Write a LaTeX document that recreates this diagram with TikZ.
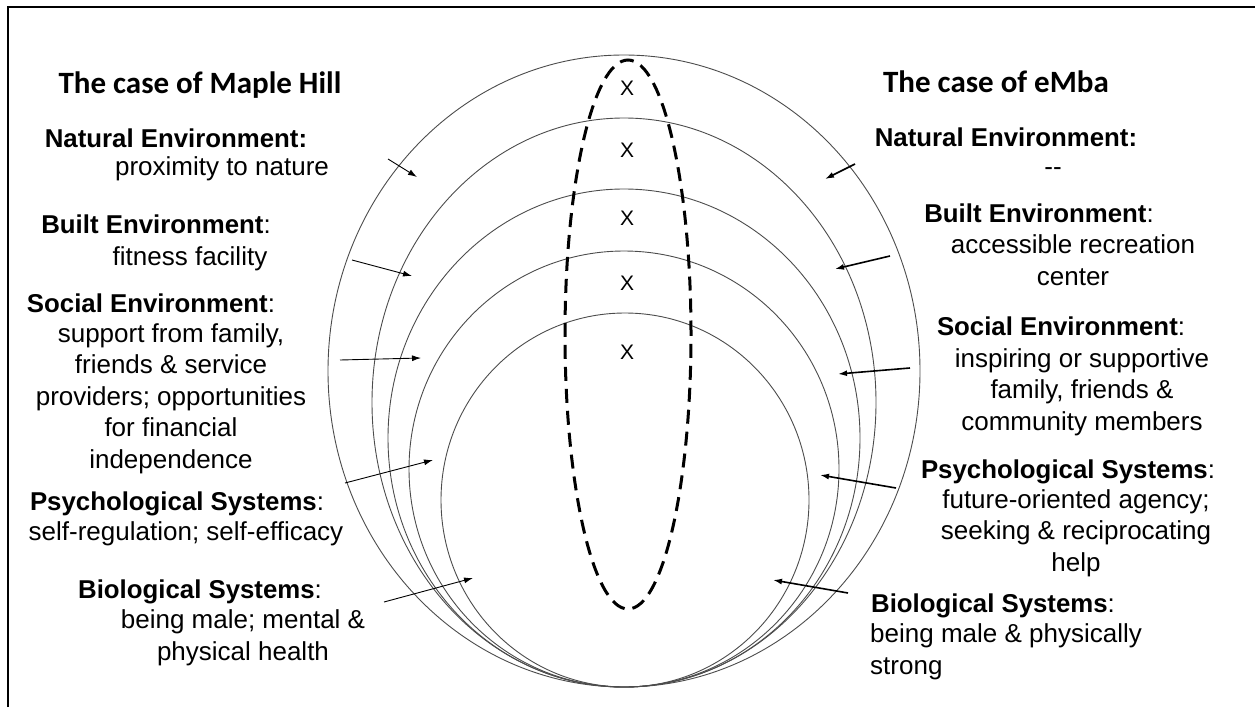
\documentclass[tikz,border=0pt]{standalone}
\usepackage{fontspec}
\setmainfont{Liberation Sans}
\newfontfamily\titlefont{Carlito}
\usetikzlibrary{arrows.meta}

\begin{document}
\begin{tikzpicture}[x=1pt, y=-1pt,
    ring/.style={draw=black!70, line width=0.9pt},
    head/.style={anchor=base, inner sep=0pt, font=\fontsize{25.8}{31}\selectfont},
    body/.style={anchor=base, inner sep=0pt, align=center, font=\fontsize{26}{31.5}\selectfont},
    title/.style={anchor=base, inner sep=0pt, font=\titlefont\fontsize{31}{36}\selectfont\bfseries},
    cross/.style={inner sep=0pt, font=\fontsize{21}{24}\selectfont},
    arr/.style={-{Latex[length=9pt,width=6pt]}, line width=0.9pt},
    arr thick/.style={arr, line width=1.6pt}
]
    \useasboundingbox (0,0) rectangle (1255,707);
    \draw[line width=2pt] (8.3,707) -- (8.3,7) -- (1255,7);

    % nested systems
    \draw[ring] (624,371)   ellipse [x radius=296pt, y radius=316pt];
    \draw[ring] (624,402.5) ellipse [x radius=252pt, y radius=284.5pt];
    \draw[ring] (624,438)   ellipse [x radius=236pt, y radius=249pt];
    \draw[ring] (624,469)   ellipse [x radius=215pt, y radius=218pt];
    \draw[ring] (625,500)   ellipse [x radius=184pt, y radius=187pt];
    \draw[line width=3pt, dash pattern=on 14pt off 8pt] (628,334.5) ellipse [x radius=63pt, y radius=274.5pt];

    \foreach \y [count=\i] in {88,150,218,283,352}
        \node[cross] (x\i) at (627,\y) {X};

    % Maple Hill (multi-line texts: base = last line)
    \node[title] (mh) at (200,93) {The case of Maple Hill};
    \node[head] (mh-nat) at (176,147) {\textbf{Natural Environment:}};
    \node[body] (mh-nat-t) at (222,175) {proximity to nature};
    \node[head] (mh-blt) at (156,233) {\textbf{Built Environment}:};
    \node[body] (mh-blt-t) at (190,265) {fitness facility};
    \node[head] (mh-soc) at (151,312) {\textbf{Social Environment}:};
    \node[body] (mh-soc-t) at (171,468) {support from family,\\friends \& service\\providers; opportunities\\for financial\\independence};
    \node[head] (mh-psy) at (177,510) {\textbf{Psychological Systems}:};
    \node[body] (mh-psy-t) at (186,540) {self-regulation; self-efficacy};
    \node[head] (mh-bio) at (200,598) {\textbf{Biological Systems}:};
    \node[body] (mh-bio-t) at (243,660) {being male; mental \&\\physical health};

    % eMba
    \node[title] (em) at (996,92) {The case of eMba};
    \node[head] (em-nat) at (1006,146) {\textbf{Natural Environment:}};
    \node[body] (em-nat-t) at (1053,175) {-{}-};
    \node[head] (em-blt) at (1039,222) {\textbf{Built Environment}:};
    \node[body] (em-blt-t) at (1073,285) {accessible recreation\\center};
    \node[head] (em-soc) at (1061,335) {\textbf{Social Environment}:};
    \node[body] (em-soc-t) at (1082,430) {inspiring or supportive\\family, friends \&\\community members};
    \node[head] (em-psy) at (1068,478) {\textbf{Psychological Systems}:};
    \node[body] (em-psy-t) at (1076,571) {future-oriented agency;\\seeking \& reciprocating\\help};
    \node[head] (em-bio) at (993,612) {\textbf{Biological Systems}:};
    \node[body, anchor=base west, align=left] (em-bio-t) at (870,674) {being male \& physically\\strong};

    \foreach \n/\a/\b/\c/\d in {l1/388/159/417/177, l2/352/260/412/276, l3/340/360/421/358,
                                l4/345/483/433/460, l5/384/602/473/578}{
        \coordinate (\n s) at (\a,\b);
        \coordinate (\n e) at (\c,\d);
        \draw[arr] (\n s) -- (\n e);
    }
    \foreach \n/\a/\b/\c/\d in {r1/855/164/825/179, r2/890/256/835/269, r3/910/368/838/374,
                                r4/896/488/820/475, r5/848/593/773/580}{
        \coordinate (\n s) at (\a,\b);
        \coordinate (\n e) at (\c,\d);
        \draw[arr thick] (\n s) -- (\n e);
    }
\end{tikzpicture}
\end{document}
